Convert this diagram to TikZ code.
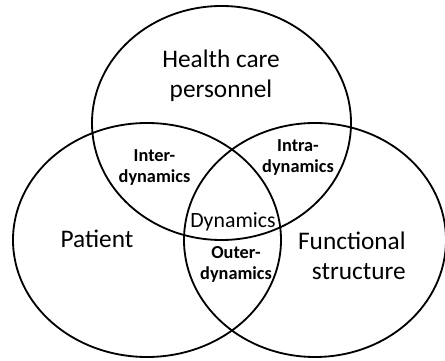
\documentclass[tikz,border=0pt]{standalone}
\usepackage{fontspec}
\setmainfont{Carlito}
\begin{document}
\begin{tikzpicture}[x=0.025cm, y=0.025cm,
  ring/.style={line width=1.3pt},
  big/.style={font=\fontsize{18}{22}\selectfont, align=center, anchor=base, inner sep=0pt},
  small/.style={font=\bfseries\fontsize{13}{15.5}\selectfont, align=center, anchor=base, inner sep=0pt}]
\useasboundingbox (0,0) rectangle (445,360);
\draw[ring] (221.5,237) ellipse [x radius=129.5, y radius=117];
\draw[ring] (147,120) ellipse [x radius=134, y radius=117];
\draw[ring] (315,120) ellipse [x radius=131, y radius=117];
% multi-line nodes: base is the last line
\node[big] (hcp) at (221,262) {Health care\\personnel};
\node[big] (patient) at (97,112) {Patient};
\node[big, align=right, anchor=base east] (func) at (406,80) {Functional\\structure};
\node[small] (inter) at (154.5,177) {Inter-\\dynamics};
\node[small] (intra) at (298,187) {Intra-\\dynamics};
\node[big, font=\fontsize{15.5}{18}\selectfont] (dyn) at (233,132) {Dynamics};
\node[small] (outer) at (236,80) {Outer-\\dynamics};
\end{tikzpicture}
\end{document}
